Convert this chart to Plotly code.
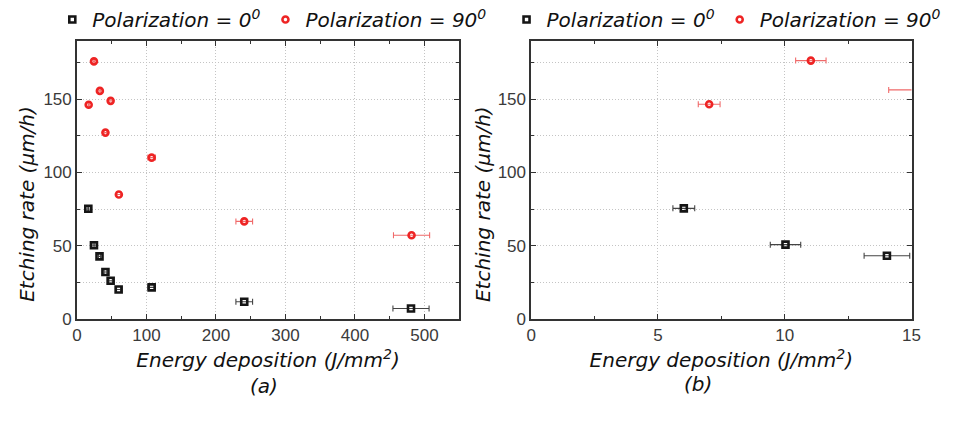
import plotly.graph_objects as go

# ---- Data: panel (a) ----
a_pol0_x = [16.4, 24.5, 32.5, 41.0, 48.5, 60.0, 107.5, 240.7, 480.6]
a_pol0_y = [75.2, 50.3, 42.7, 32.0, 26.0, 20.0, 21.5, 11.7, 7.1]
a_pol0_err = [0.8, 1.2, 1.6, 2.0, 2.4, 3.0, 5.4, 12.0, 26.0]

a_pol90_x = [16.9, 24.5, 33.0, 41.0, 48.5, 60.3, 107.5, 240.7, 481.4]
a_pol90_y = [146.3, 176.0, 155.8, 127.3, 149.0, 85.0, 110.2, 66.6, 57.1]
a_pol90_err = [0.85, 1.2, 1.6, 2.0, 2.4, 3.0, 5.4, 12.0, 26.0]

# ---- Data: panel (b) ----
b_pol0_x = [6.02, 10.03, 14.03]
b_pol0_y = [75.5, 50.7, 43.1]
b_pol0_err = [0.43, 0.6, 0.9]

b_pol90_x = [7.02, 11.03, 15.4]
b_pol90_y = [146.7, 176.5, 156.5]
b_pol90_err = [0.43, 0.6, 1.3]

leg0 = "Polarization = 0<sup>0</sup>"
leg90 = "Polarization = 90<sup>0</sup>"

BLACK = "#151515"
RED = "#ee2424"
ERR_BLACK = "#444444"
ERR_RED = "#f06a6a"

def pts(x, y, err, name, color, ecolor, symbol, xa, ya, legend):
    return go.Scatter(
        x=x, y=y, mode="markers", name=name,
        marker=dict(symbol=symbol, size=6, color=color, line=dict(width=2.6, color=color)),
        error_x=dict(type="data", array=err, visible=True, color=ecolor, thickness=1.1, width=3),
        xaxis=xa, yaxis=ya, legend=legend, showlegend=True,
    )

fig = go.Figure()
fig.add_trace(pts(a_pol0_x, a_pol0_y, a_pol0_err, leg0, BLACK, ERR_BLACK, "square-open", "x", "y", "legend"))
fig.add_trace(pts(a_pol90_x, a_pol90_y, a_pol90_err, leg90, RED, ERR_RED, "circle-open", "x", "y", "legend"))
fig.add_trace(pts(b_pol0_x, b_pol0_y, b_pol0_err, leg0, BLACK, ERR_BLACK, "square-open", "x2", "y2", "legend2"))
fig.add_trace(pts(b_pol90_x, b_pol90_y, b_pol90_err, leg90, RED, ERR_RED, "circle-open", "x2", "y2", "legend2"))

TICKFONT = dict(family="Liberation Sans, Arial, sans-serif", size=17, color="#3a3a3a")
TITLEFONT = dict(family="DejaVu Sans, Verdana, sans-serif", size=20, color="#111111", style="italic")
GRID = "#c4c4c4"
DASH = "1px,2px"

def xaxis_cfg(domain, rng, dtick, minor_dtick, anchor):
    return dict(
        domain=domain, range=rng, dtick=dtick, tick0=0, anchor=anchor,
        ticks="inside", ticklen=5, tickwidth=1, tickcolor="#333", mirror="ticks",
        showline=True, linecolor="#333333", linewidth=1.5,
        showgrid=True, gridcolor=GRID, griddash=DASH, gridwidth=1,
        zeroline=False, tickfont=TICKFONT,
        minor=dict(dtick=minor_dtick, ticks="inside", ticklen=3, tickcolor="#333", showgrid=False),
        title=dict(text="Energy deposition (J/mm<sup>2</sup>)", font=TITLEFONT, standoff=9),
    )

def yaxis_cfg(domain, anchor):
    return dict(
        domain=domain, range=[0, 190], dtick=50, tick0=0, anchor=anchor,
        ticks="inside", ticklen=5, tickwidth=1, tickcolor="#333", mirror="ticks",
        showline=True, linecolor="#333333", linewidth=1.5,
        showgrid=True, gridcolor=GRID, griddash=DASH, gridwidth=1,
        zeroline=False, tickfont=TICKFONT,
        minor=dict(dtick=25, ticks="inside", ticklen=3, tickcolor="#333",
                   showgrid=True, gridcolor=GRID, griddash=DASH, gridwidth=1),
    )

W, H = 955, 426
ydom = [1 - 326 / H, 1 - 40 / H]

LEGFONT = dict(family="DejaVu Sans, Verdana, sans-serif", size=20, color="#111111", style="italic")

def ann(text, xp, yp, angle=0):
    return dict(text=text, x=xp / W, y=1 - yp / H, xref="paper", yref="paper",
                xanchor="center", yanchor="middle", textangle=angle,
                showarrow=False, font=TITLEFONT)

fig.update_layout(
    width=W, height=H, margin=dict(l=0, r=0, t=0, b=0),
    paper_bgcolor="white", plot_bgcolor="white",
    xaxis=xaxis_cfg([73 / W, 461 / W], [0, 550], 100, 50, "y"),
    yaxis=yaxis_cfg(ydom, "x"),
    xaxis2=xaxis_cfg([534 / W, 920 / W], [0, 15], 5, 2.5, "y2"),
    yaxis2=yaxis_cfg(ydom, "x2"),
    legend=dict(orientation="h", x=48 / W, y=1.005, xanchor="left", yanchor="top",
                font=LEGFONT, bgcolor="rgba(0,0,0,0)"),
    legend2=dict(orientation="h", x=509 / W, y=1.005, xanchor="left", yanchor="top",
                 font=LEGFONT, bgcolor="rgba(0,0,0,0)"),
    annotations=[
        ann("Etching rate (μm/h)", 22, 208, -90),
        ann("Etching rate (μm/h)", 485, 208, -90),
        ann("(a)", 263, 395),
        ann("(b)", 703, 393),
    ],
)

fig.write_html("out.html")
